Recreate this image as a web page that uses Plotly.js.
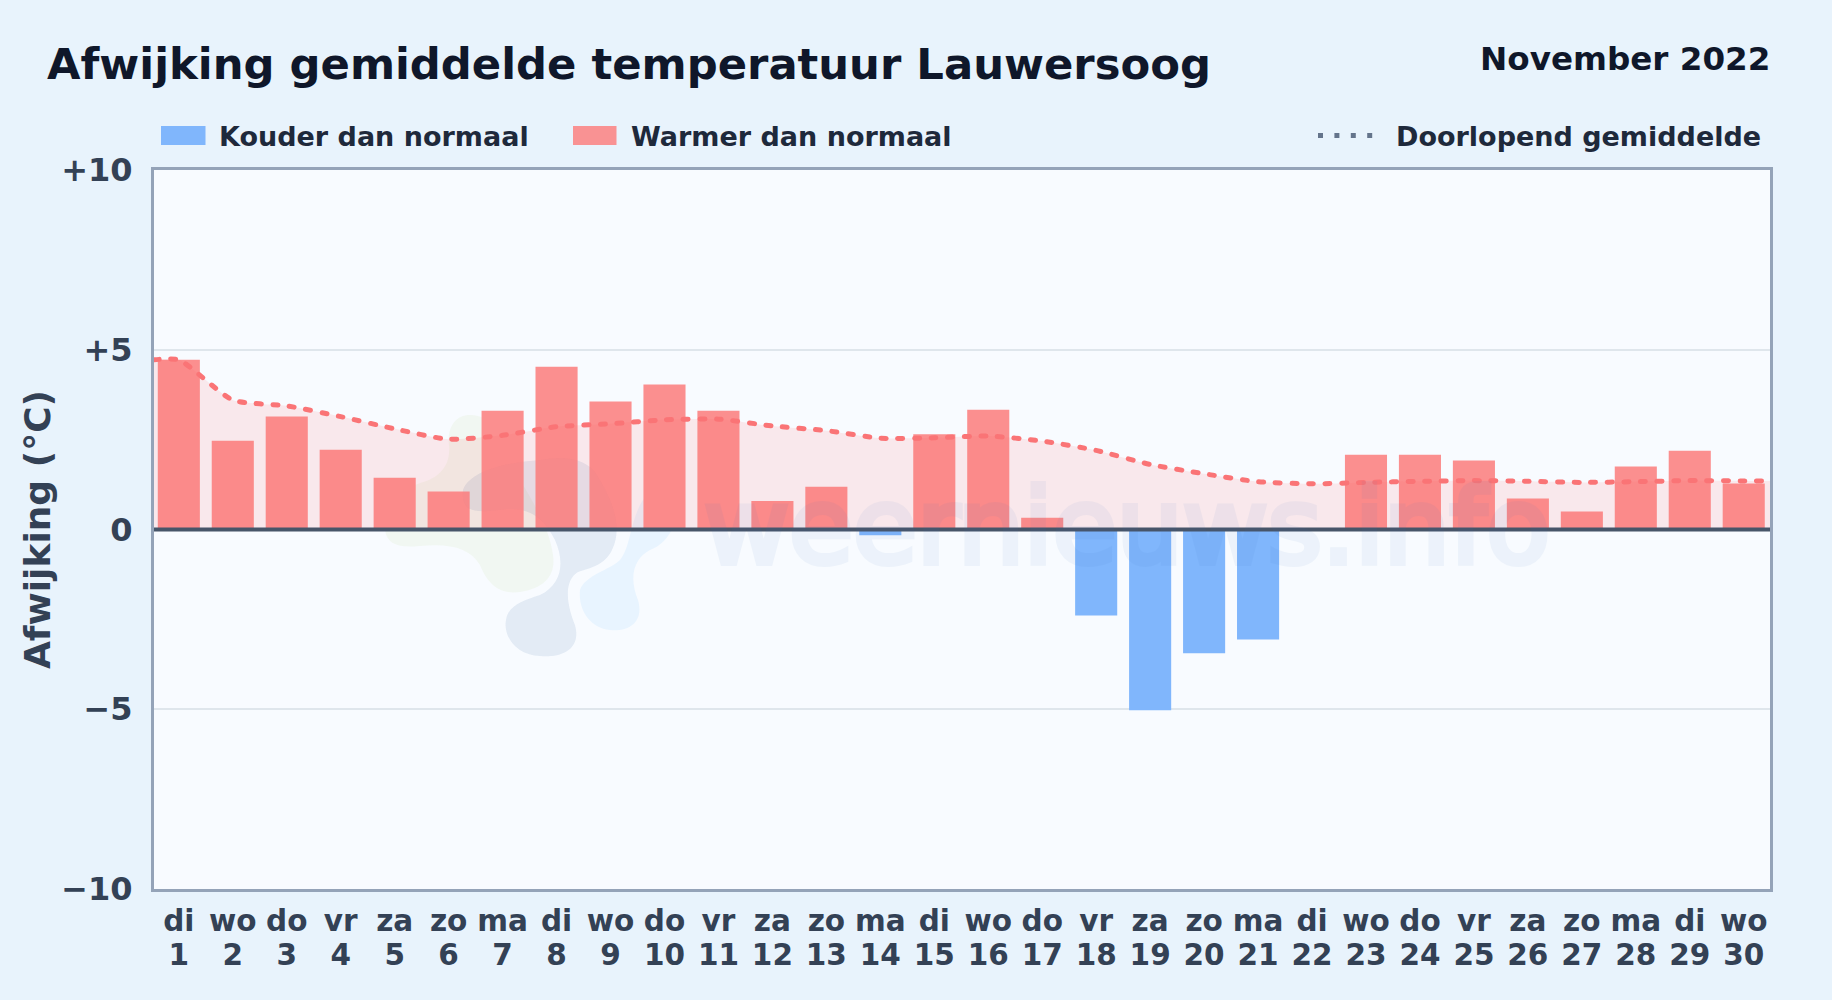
<!DOCTYPE html>
<html lang="nl">
<head>
<meta charset="utf-8">
<script src="https://cdn.plot.ly/plotly-3.0.1.min.js"></script>
<style>
html,body{margin:0;padding:0;background:#e8f3fc;}
#chart{width:1832px;height:1000px;}
.scatterlayer .js-line{stroke-linecap:round;}
.infolayer .legend .legendlines path{stroke-width:19px !important;}
.annotation[data-index="1"] text{stroke:#3a74c0;stroke-width:6px;}
</style>
</head>
<body>
<div id="chart"></div>
<script>
const weekdays = ["di","wo","do","vr","za","zo","ma","di","wo","do","vr","za","zo","ma","di","wo","do","vr","za","zo","ma","di","wo","do","vr","za","zo","ma","di","wo"];
const days = [1,2,3,4,5,6,7,8,9,10,11,12,13,14,15,16,17,18,19,20,21,22,23,24,25,26,27,28,29,30];
const warmer = [4.72,2.47,3.14,2.22,1.44,1.06,3.30,4.53,3.56,4.03,3.30,0.79,1.19,null,2.65,3.33,0.33,null,null,null,null,null,2.08,2.08,1.92,0.86,0.50,1.75,2.19,1.28];
const kouder = [null,null,null,null,null,null,null,null,null,null,null,null,null,-0.16,null,null,null,-2.39,-5.03,-3.44,-3.06,null,null,null,null,null,null,null,null,null];
const avgX = [0.54,1,2,3,4,5,6,7,8,9,10,11,12,13,14,15,16,17,18,19,20,21,22,23,24,25,26,27,28,29,30,30.487];
const avgY = [4.72,4.72,3.60,3.44,3.14,2.80,2.51,2.62,2.86,2.94,3.05,3.07,2.88,2.75,2.54,2.55,2.60,2.46,2.20,1.81,1.55,1.33,1.27,1.31,1.34,1.36,1.34,1.31,1.33,1.36,1.35,1.35];
const yTickVals = [10,5,0,-5,-10];
const yTickText = ["+10","+5","0","\u22125","\u221210"];
const xRange = [0.54,30.487];

const FONT = "DejaVu Sans, sans-serif";
const M = {l:154,r:62,t:170,b:111};
const W = 1832, H = 1000;
const fx = x => (x-M.l)/(W-M.l-M.r);
const fy = y => (H-M.b-y)/(H-M.t-M.b);
// watermark outlines, written in page pixels and converted to paper fractions
const wm = p => p.replace(/(-?[\d.]+),(-?[\d.]+)/g,(m,a,b)=>fx(+a).toFixed(5)+","+fy(+b).toFixed(5));
const logoGreen = "M470,415 C455,415 447,428 449,445 C451,465 440,478 420,483 C400,490 385,510 385,530 C387,545 400,548 420,546 C450,543 470,548 480,565 C490,590 505,594 520,592 C545,588 556,575 553,555 C550,530 535,505 520,480 C505,450 500,415 470,415 Z";
const logoNavy = "M463,490 C470,470 510,462 540,460 C565,455 590,458 600,480 C615,505 622,530 612,550 C605,565 590,568 578,572 C565,580 565,600 575,625 C582,650 560,658 540,656 C515,655 503,635 506,620 C508,605 525,600 540,595 C560,585 566,565 555,540 C545,520 530,505 500,510 C480,512 460,515 463,490 Z";
const logoBlue = "M580,590 C585,575 610,570 620,560 C630,548 630,525 640,505 C650,485 670,485 675,505 C680,525 665,545 650,550 C635,558 628,575 638,600 C645,625 625,632 610,630 C590,628 578,610 580,590 Z";
const blob = (path,fill,layer)=>({type:"path",xref:"paper",yref:"paper",layer:layer,path:wm(path),fillcolor:fill,line:{width:0}});

const traces = [
  {type:"bar",name:"Warmer",x:days,y:warmer,width:0.78,marker:{color:"#fb8f8f",line:{width:0}},showlegend:false,hoverinfo:"x+y"},
  {type:"bar",name:"Kouder",x:days,y:kouder,width:0.78,marker:{color:"#80b6fc",line:{width:0}},showlegend:false,hoverinfo:"x+y"},
  {type:"scatter",mode:"lines",name:"Gemiddelde",x:avgX,y:avgY,fill:"tozeroy",fillcolor:"rgba(255,107,107,0.13)",
   line:{color:"#fa7476",width:5,shape:"spline",smoothing:0.6,dash:"5px,11.6px"},showlegend:false,hoverinfo:"x+y"},
  {type:"scatter",mode:"lines",name:"Kouder dan normaal",x:[null],y:[null],line:{color:"#80b6fc",width:10,dash:"44.5px,100px"},legend:"legend"},
  {type:"scatter",mode:"lines",name:"Warmer dan normaal",x:[null],y:[null],line:{color:"#f99293",width:10,dash:"43.5px,100px"},legend:"legend"},
  {type:"scatter",mode:"lines",name:"Doorlopend gemiddelde",x:[null],y:[null],line:{color:"#64748b",width:5,dash:"5px,11.4px,5px,11.4px,5px,11.4px,5px,100px"},legend:"legend2"},
  {type:"scatter",mode:"lines",name:"weekdagen",xaxis:"x2",x:[null],y:[null],showlegend:false,hoverinfo:"skip"}
];

const axisBase = {type:"linear",range:xRange,tickmode:"array",tickvals:days,tickangle:0,ticks:"",showgrid:false,zeroline:false,
  tickfont:{family:FONT,size:29.5,color:"#334155",weight:700}};

const layout = {
  width:W,height:H,
  paper_bgcolor:"#e8f3fc",plot_bgcolor:"#f8fbff",
  margin:M,
  font:{family:FONT,color:"#334155"},
  title:{text:"<b>Afwijking gemiddelde temperatuur Lauwersoog</b>",x:47/W,xanchor:"left",y:1-64/H,yanchor:"middle",
         font:{family:FONT,size:43.3,color:"#0f172a"}},
  barmode:"overlay",
  bargap:0.22,
  xaxis:Object.assign({},axisBase,{ticktext:days.map(String),showline:true,mirror:true,linecolor:"#94a3b8",linewidth:3,ticklabelstandoff:38}),
  xaxis2:Object.assign({},axisBase,{ticktext:weekdays,overlaying:"x",side:"bottom",anchor:"y",showline:false,ticklabelstandoff:11}),
  yaxis:{range:[-10,10],tickmode:"array",tickvals:yTickVals,ticktext:yTickText,
    tickfont:{family:FONT,size:32,color:"#334155",weight:700},ticks:"",showgrid:true,gridcolor:"#dfe6ec",gridwidth:2,zeroline:false,
    showline:true,mirror:true,linecolor:"#94a3b8",linewidth:3,ticklabelstandoff:12,
    title:{text:"<b>Afwijking (°C)</b>",font:{family:FONT,size:36,color:"#334155"},standoff:0}},
  legend:{orientation:"h",x:fx(156),xanchor:"left",y:fy(136),yanchor:"middle",bgcolor:"rgba(0,0,0,0)",borderwidth:0,
    itemwidth:53,itemclick:false,itemdoubleclick:false,font:{family:FONT,size:27,color:"#1e293b",weight:700},
    entrywidthmode:"pixels",entrywidth:344},
  legend2:{orientation:"h",x:fx(1313),xanchor:"left",y:fy(136),yanchor:"middle",bgcolor:"rgba(0,0,0,0)",borderwidth:0,
    itemwidth:73,itemclick:false,itemdoubleclick:false,font:{family:FONT,size:27,color:"#1e293b",weight:700}},
  shapes:[
    blob(logoGreen,"rgba(170,210,90,0.08)","below"),
    blob(logoNavy,"rgba(37,90,150,0.08)","below"),
    blob(logoBlue,"rgba(80,180,250,0.09)","below"),
    blob(logoNavy,"rgba(37,90,150,0.02)","above"),
    {type:"line",xref:"paper",yref:"y",x0:0,x1:1,y0:0,y1:0,layer:"above",line:{color:"#475569",width:4}}
  ],
  annotations:[
    {text:"<b>November 2022</b>",xref:"paper",yref:"paper",x:fx(1771.5),y:fy(59),xanchor:"right",yanchor:"middle",showarrow:false,
     font:{family:FONT,size:32.6,color:"#0f172a"}},
    {text:"weernieuws.info",xref:"paper",yref:"paper",x:fx(1127),y:fy(527),xanchor:"center",yanchor:"middle",showarrow:false,opacity:0.06,
     font:{family:FONT,size:104,color:"#3a74c0"}}
  ]
};
Plotly.newPlot("chart",traces,layout,{displayModeBar:false,responsive:false});
</script>
</body>
</html>
